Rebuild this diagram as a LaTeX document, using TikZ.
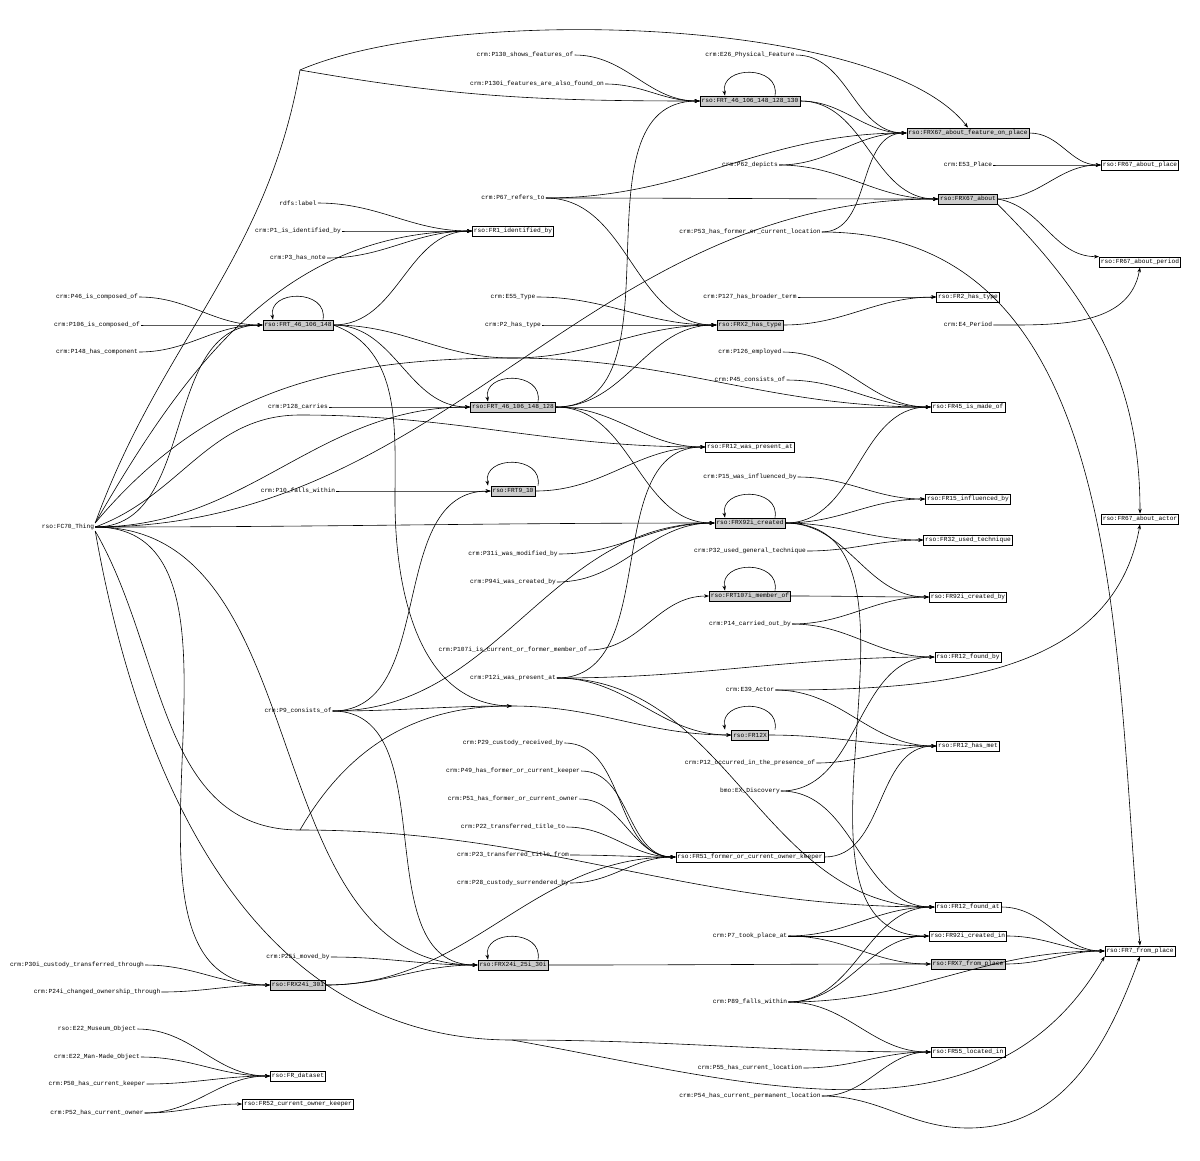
\documentclass[tikz,border=0pt]{standalone}
\usepackage{fontspec}
\setmonofont{Liberation Mono}
\usetikzlibrary{arrows.meta,positioning}
\tikzset{
  lbl/.style={font=\ttfamily\fontsize{6.2}{7}\selectfont, inner sep=1pt},
  box/.style={lbl, draw, line width=0.7pt, inner sep=1.5pt, minimum height=10pt},
  gbox/.style={box, fill=black!20},
  ed/.style={line width=0.6pt, -{Stealth[length=5pt,width=3.5pt]}},
  loopy/.style={ed, looseness=1.6}
}
\begin{document}
\begin{tikzpicture}[x=1pt,y=1pt]
\useasboundingbox (0,0) rectangle (1200,-1160);

% plain labels
\node[lbl] (p130s) at (525,-55) {crm:P130\_shows\_features\_of};
\node[lbl] (e26) at (750,-55) {crm:E26\_Physical\_Feature};
\node[lbl] (p130i) at (537,-84) {crm:P130i\_features\_are\_also\_found\_on};
\node[lbl] (p62) at (750,-165) {crm:P62\_depicts};
\node[lbl] (e53) at (968,-165) {crm:E53\_Place};
\node[lbl] (p67) at (513,-198) {crm:P67\_refers\_to};
\node[lbl] (rdfs) at (298,-203) {rdfs:label};
\node[lbl] (p1) at (298,-231) {crm:P1\_is\_identified\_by};
\node[lbl] (p53) at (750,-232) {crm:P53\_has\_former\_or\_current\_location};
\node[lbl] (p3) at (298,-258) {crm:P3\_has\_note};
\node[lbl] (p46) at (97,-297) {crm:P46\_is\_composed\_of};
\node[lbl] (e55) at (513,-297) {crm:E55\_Type};
\node[lbl] (p127) at (750,-297) {crm:P127\_has\_broader\_term};
\node[lbl] (e4) at (968,-325) {crm:E4\_Period};
\node[lbl] (p106) at (97,-325) {crm:P106\_is\_composed\_of};
\node[lbl] (p2) at (513,-325) {crm:P2\_has\_type};
\node[lbl] (p148) at (97,-352) {crm:P148\_has\_component};
\node[lbl] (p126) at (750,-352) {crm:P126\_employed};
\node[lbl] (p45) at (750,-380) {crm:P45\_consists\_of};
\node[lbl] (p128) at (298,-407) {crm:P128\_carries};
\node[lbl] (p15) at (750,-477) {crm:P15\_was\_influenced\_by};
\node[lbl] (p10) at (298,-491) {crm:P10\_falls\_within};
\node[lbl] (fc70) at (68,-527) {rso:FC70\_Thing};
\node[lbl] (p31) at (513,-554) {crm:P31i\_was\_modified\_by};
\node[lbl] (p32) at (750,-551) {crm:P32\_used\_general\_technique};
\node[lbl] (p94) at (513,-582) {crm:P94i\_was\_created\_by};
\node[lbl] (p14) at (750,-624) {crm:P14\_carried\_out\_by};
\node[lbl] (p107) at (513,-650) {crm:P107i\_is\_current\_or\_former\_member\_of};
\node[lbl] (p12i) at (513,-678) {crm:P12i\_was\_present\_at};
\node[lbl] (e39) at (750,-690) {crm:E39\_Actor};
\node[lbl] (p9) at (298,-711) {crm:P9\_consists\_of};
\node[lbl] (p29) at (513,-743) {crm:P29\_custody\_received\_by};
\node[lbl] (p12o) at (750,-763) {crm:P12\_occurred\_in\_the\_presence\_of};
\node[lbl] (p49) at (513,-771) {crm:P49\_has\_former\_or\_current\_keeper};
\node[lbl] (bmo) at (750,-791) {bmo:EX\_Discovery};
\node[lbl] (p51) at (513,-799) {crm:P51\_has\_former\_or\_current\_owner};
\node[lbl] (p22) at (513,-827) {crm:P22\_transferred\_title\_to};
\node[lbl] (p23) at (513,-855) {crm:P23\_transferred\_title\_from};
\node[lbl] (p28) at (513,-883) {crm:P28\_custody\_surrendered\_by};
\node[lbl] (p7) at (750,-936) {crm:P7\_took\_place\_at};
\node[lbl] (p25) at (298,-957) {crm:P25i\_moved\_by};
\node[lbl] (p30) at (77,-965) {crm:P30i\_custody\_transferred\_through};
\node[lbl] (p24) at (97,-992) {crm:P24i\_changed\_ownership\_through};
\node[lbl] (p89) at (750,-1002) {crm:P89\_falls\_within};
\node[lbl] (e22m) at (97,-1029) {rso:E22\_Museum\_Object};
\node[lbl] (e22mm) at (97,-1057) {crm:E22\_Man-Made\_Object};
\node[lbl] (p55) at (750,-1068) {crm:P55\_has\_current\_location};
\node[lbl] (p50) at (97,-1084) {crm:P50\_has\_current\_keeper};
\node[lbl] (p54) at (750,-1096) {crm:P54\_has\_current\_permanent\_location};
\node[lbl] (p52) at (97,-1113) {crm:P52\_has\_current\_owner};

% boxes
\node[gbox] (frt130) at (750,-101) {rso:FRT\_46\_106\_148\_128\_130};
\node[gbox] (frx67f) at (968,-133) {rso:FRX67\_about\_feature\_on\_place};
\node[box] (fr67p) at (1140,-165) {rso:FR67\_about\_place};
\node[gbox] (frx67) at (968,-199) {rso:FRX67\_about};
\node[box] (fr1) at (513,-231) {rso:FR1\_identified\_by};
\node[box] (fr67per) at (1140,-262) {rso:FR67\_about\_period};
\node[gbox] (frt148) at (298,-325) {rso:FRT\_46\_106\_148};
\node[box] (fr2) at (968,-297) {rso:FR2\_has\_type};
\node[gbox] (frx2) at (750,-325) {rso:FRX2\_has\_type};
\node[gbox] (frt128) at (513,-407) {rso:FRT\_46\_106\_148\_128};
\node[box] (fr45) at (968,-407) {rso:FR45\_is\_made\_of};
\node[box] (fr12w) at (750,-447) {rso:FR12\_was\_present\_at};
\node[gbox] (frt9) at (513,-491) {rso:FRT9\_10};
\node[box] (fr15) at (968,-499) {rso:FR15\_influenced\_by};
\node[box] (fr67act) at (1140,-519) {rso:FR67\_about\_actor};
\node[gbox] (frx92) at (750,-523) {rso:FRX92i\_created};
\node[box] (fr32) at (968,-540) {rso:FR32\_used\_technique};
\node[gbox] (frt107) at (750,-596) {rso:FRT107i\_member\_of};
\node[box] (fr92by) at (968,-597) {rso:FR92i\_created\_by};
\node[box] (fr12fb) at (968,-657) {rso:FR12\_found\_by};
\node[gbox] (fr12x) at (750,-735) {rso:FR12X};
\node[box] (fr12m) at (968,-746) {rso:FR12\_has\_met};
\node[box] (fr51) at (750,-857) {rso:FR51\_former\_or\_current\_owner\_keeper};
\node[box] (fr12fa) at (968,-907) {rso:FR12\_found\_at};
\node[box] (fr92in) at (968,-936) {rso:FR92i\_created\_in};
\node[box] (fr7) at (1140,-951) {rso:FR7\_from\_place};
\node[gbox] (frx24b) at (513,-965) {rso:FRX24i\_25i\_30i};
\node[gbox] (frx7) at (968,-964) {rso:FRX7\_from\_place};
\node[gbox] (frx24a) at (298,-985) {rso:FRX24i\_30i};
\node[box] (fr55) at (968,-1052) {rso:FR55\_located\_in};
\node[box] (frds) at (298,-1076) {rso:FR\_dataset};
\node[box] (fr52) at (298,-1104) {rso:FR52\_current\_owner\_keeper};

% bends of the long edges
\coordinate (j1) at (300,-70);
\coordinate (j2) at (512,-358);
\coordinate (j3) at (300,-415);
\coordinate (j4) at (512,-706);
\coordinate (j5) at (300,-830);
\coordinate (j6) at (512,-1040);
\coordinate (j7) at (968,-1128);

% left to right edges
\foreach \a/\b in {p130s/frt130, p130i/frt130, e26/frx67f, frt130/frx67f, frt130/frx67,
  frx67f/fr67p, p62/frx67f, p62/frx67, e53/fr67p, frx67/fr67p, p67/frx67f, p67/frx67,
  p67/frx2, p53/frx67f, rdfs/fr1, p1/fr1, p3/fr1, frt148/fr1, p46/frt148, p106/frt148,
  p148/frt148, frt148/frt128, e55/frx2, p2/frx2, frx2/fr2, p127/fr2, p126/fr45, p45/fr45,
  p128/frt128, frt128/fr45, frt128/fr12w, frt128/frx92, frt128/frt130, frt128/frx2,
  frt9/fr12w, p10/frt9, p15/fr15, frx92/fr15, frx92/fr32, frx92/fr92by, frx92/fr45,
  p31/frx92, p94/frx92, p32/fr32, frt107/fr92by, p14/fr92by, p14/fr12fb, p107/frt107,
  p12i/fr12fb, p12i/fr12x, p12i/fr12w, p12i/fr12fa, e39/fr12m, fr12x/fr12m, p12o/fr12m,
  bmo/fr12fb, bmo/fr12fa, p29/fr51, p49/fr51, p51/fr51, p22/fr51, p23/fr51, p28/fr51,
  fr51/fr12m, p7/fr12fa, p7/fr92in, p7/frx7, p89/fr12fa, p89/fr92in, p89/fr7, p89/fr55,
  fr12fa/fr7, fr92in/fr7, frx7/fr7, frx92/fr92in, p25/frx24b, frx24b/frx7, p30/frx24a,
  p24/frx24a, frx24a/frx24b, frx24a/fr51, p55/fr55, p54/fr55, e22m/frds, e22mm/frds,
  p50/frds, p52/frds, p52/fr52, p9/frt9, p9/frx92, p9/frx24b, fc70/frt148, fc70/frx67,
  fc70/frt128, fc70/frx92, fc70/frx24b, fc70/frx24a}
  \draw[ed] (\a.east) to[out=0,in=180] (\b.west);

% edges ending on top or bottom
\draw[ed] (frx67.south east) to[out=-45,in=90] (fr67act.north);
\draw[ed] (frx67.east) to[out=-10,in=180] (fr67per.north west);
\draw[ed] (e4.east) to[out=0,in=-100] (fr67per.south);
\draw[ed] (e39.east) to[out=0,in=-100] (fr67act.south);
\draw[ed] (p53.east) to[out=0,in=95] (fr7.north);
\draw[ed] (p54.east) to[out=0,in=180] (j7) to[out=0,in=-110] (fr7.south);

% edges through bends
\draw[ed] (fc70.north east) to[out=70,in=-100] (j1)
  .. controls (450,-5) and (880,-15) .. (frx67f.north);
\draw[ed] (j1) to[out=-10,in=180] (frt130.west);
\draw[ed] (fc70.north east) to[out=60,in=180] (fr1.west);
\draw[ed] (fc70.east) to[out=20,in=180] (j3) to[out=0,in=180] (fr12w.west);
\draw[ed] (frt148.east) to[out=0,in=180] (j2) to[out=0,in=180] (fr45.west);
\draw[ed] (fc70.north east) to[out=50,in=180] (j2) to[out=0,in=180] (frx2.west);
\draw[ed] (frt148.east) to[out=-20,in=90] (395,-500) to[out=-90,in=180] (j4)
  to[out=0,in=180] (fr12x.west);
\draw[ed] (p9.east) to[out=0,in=180] (j4);
\draw[ed] (fc70.south east) to[out=-60,in=180] (j5) to[out=0,in=180] (fr12fa.west);
\draw[ed] (j5) to[out=60,in=180] (j4);
\draw[ed] (fc70.south east) to[out=-80,in=180] (j6) to[out=0,in=180] (fr55.west);
\draw[ed] (j6) to[out=-10,in=-120] (fr7.south west);

% self loops
\foreach \n in {frt130, frt148, frt128, frt9, frx92, frt107, fr12x, frx24b}
  \draw[loopy] ([xshift=25pt]\n.north) to[out=80,in=100] ([xshift=-25pt]\n.north);
\end{tikzpicture}
\end{document}
